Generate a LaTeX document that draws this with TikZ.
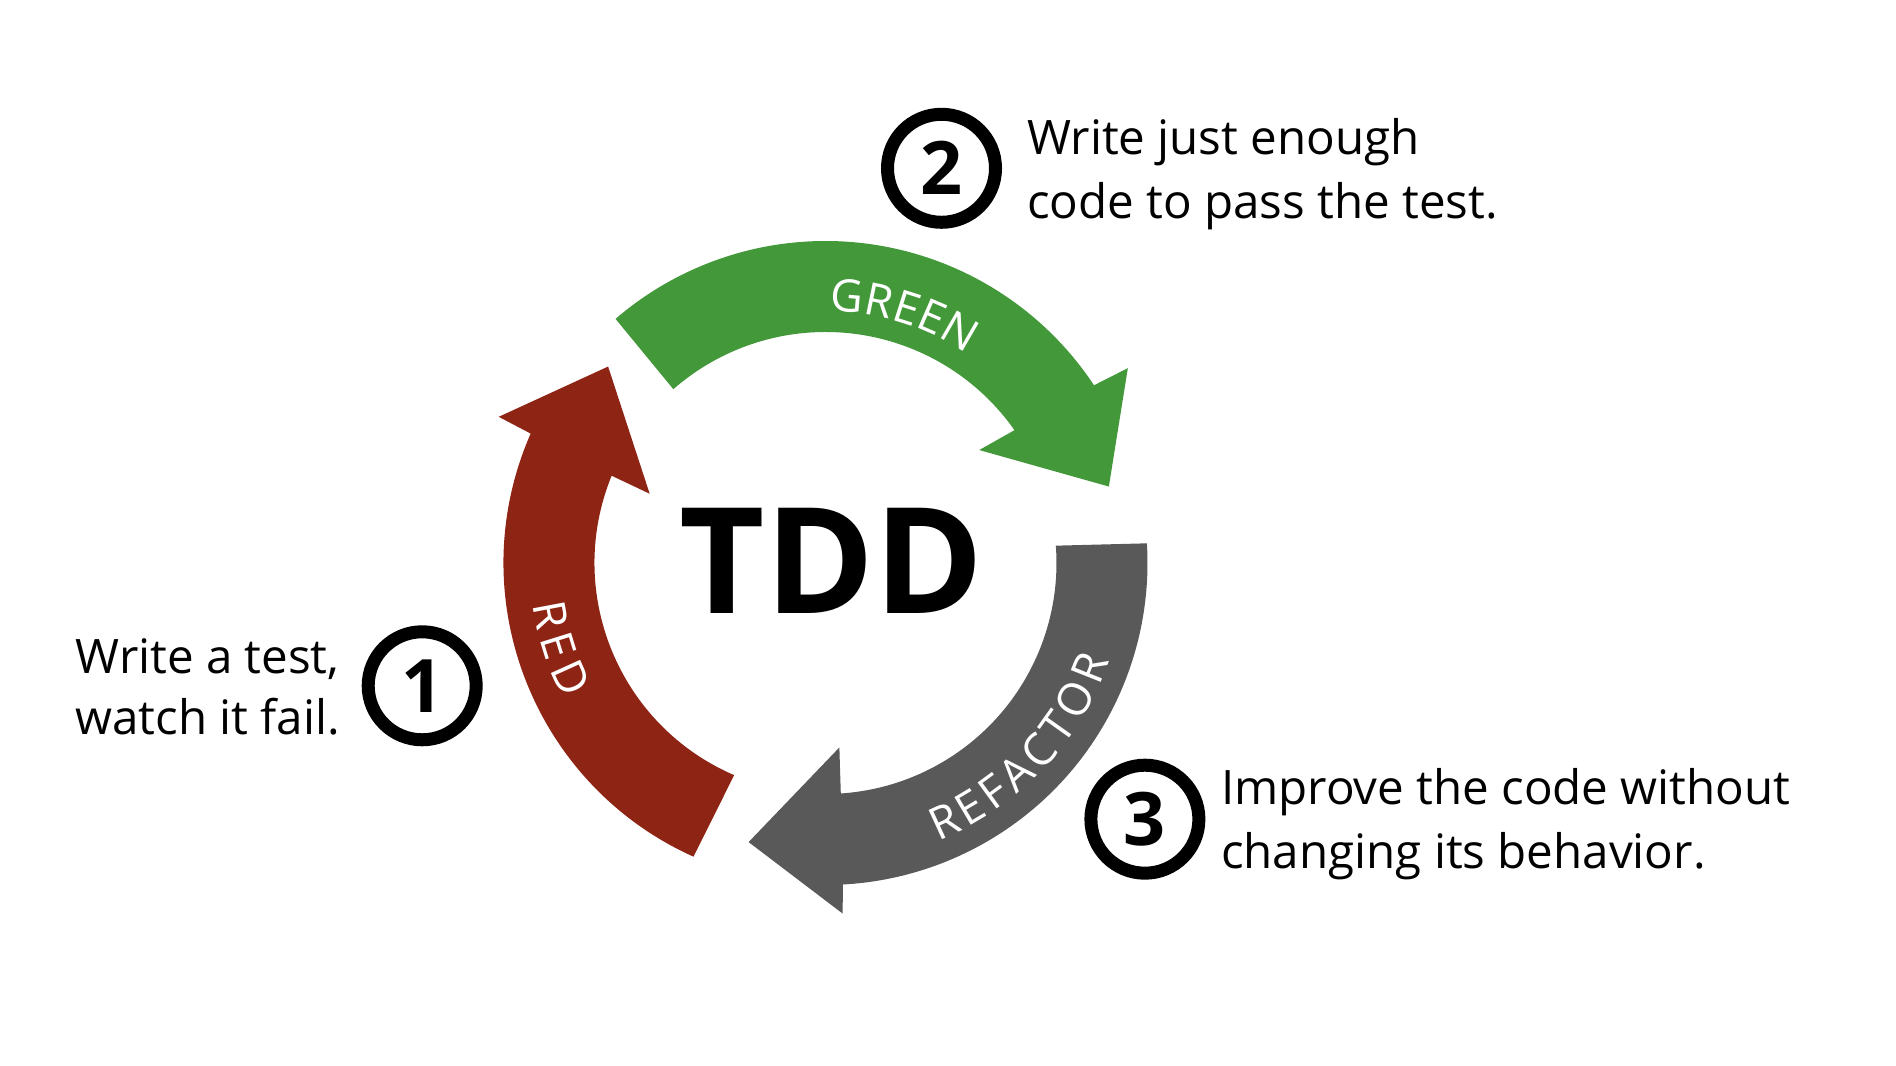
\documentclass[tikz,border=0pt]{standalone}
\usepackage{fontspec}
\setmainfont{Open Sans}
\usetikzlibrary{decorations.text}
\definecolor{redc}{RGB}{142,36,20}
\definecolor{greenc}{RGB}{67,152,58}
\definecolor{grayc}{RGB}{89,89,89}
\tikzset{
  lbl/.style={inner sep=0pt, anchor=base west, text=black, font=\fontsize{19}{23}\selectfont},
  numc/.style={circle, draw=black, line width=5.2pt, minimum size=43.2pt, inner sep=0pt, font=\bfseries\fontsize{29.5}{30}\selectfont},
  arclabel/.style={decorate, decoration={text along path, text color=white, text align=fit to path, text={|\fontsize{18}{18}\selectfont|#1}}}
}
\begin{document}
\begin{tikzpicture}[x=0.4pt,y=0.4pt]
\useasboundingbox (0,0) rectangle (1896,1066);
\fill[white] (0,0) rectangle (1896,1066);
\begin{scope}[shift={(825.5,503)}]
  % RED arrow
  \fill[redc] (245.8:322) arc[start angle=245.8, end angle=156.3, radius=322]
     -- (155.9:358) -- (137.9:293) -- (158.5:189) -- (157.8:231)
     arc[start angle=157.8, end angle=246.7, radius=231] -- cycle;
  % GREEN arrow
  \fill[greenc] (130.7:322) arc[start angle=130.7, end angle=33.5, radius=322]
     -- (32.8:359.7) -- (15.1:293.5) -- (36.3:190.8) -- (35.1:231)
     arc[start angle=35.1, end angle=131.2, radius=231] -- cycle;
  % REFACTOR arrow
  \fill[grayc] (3.5:322) arc[start angle=3.5, end angle=-86.9, radius=322]
     -- (-87.2:351) -- (-105.4:289.5) -- (-85.7:185) -- (-86.2:231)
     arc[start angle=-86.2, end angle=4.3, radius=231] -- cycle;
  % labels on arrows
  \path[arclabel=GREEN] (89:252) arc[start angle=89, end angle=56, radius=252];
  \path[arclabel=RED] (188:296) arc[start angle=188, end angle=207.5, radius=296];
  \path[arclabel=REFACTOR] (-68:300) arc[start angle=-68, end angle=-19, radius=300];
\end{scope}
\node[inner sep=0pt, font=\bfseries\fontsize{59}{59}\selectfont] (tdd) at (831.5,505) {TDD};
% step 1
\node[numc] (n1) at (422.2,380.2) {1};
\node[lbl] (t1a) at (75,392.7) {Write a test,};
\node[lbl] (t1b) at (75,331) {watch it fail.};
% step 2
\node[numc] (n2) at (941.5,897.7) {2};
\node[lbl] (t2a) at (1026.6,911) {Write just enough};
\node[lbl] (t2b) at (1026.6,847.7) {code to pass the test.};
% step 3
\node[numc] (n3) at (1144.9,246.8) {3};
\node[lbl] (t3a) at (1220.6,261) {Improve the code without};
\node[lbl] (t3b) at (1220.6,197.7) {changing its behavior.};
\end{tikzpicture}
\end{document}
